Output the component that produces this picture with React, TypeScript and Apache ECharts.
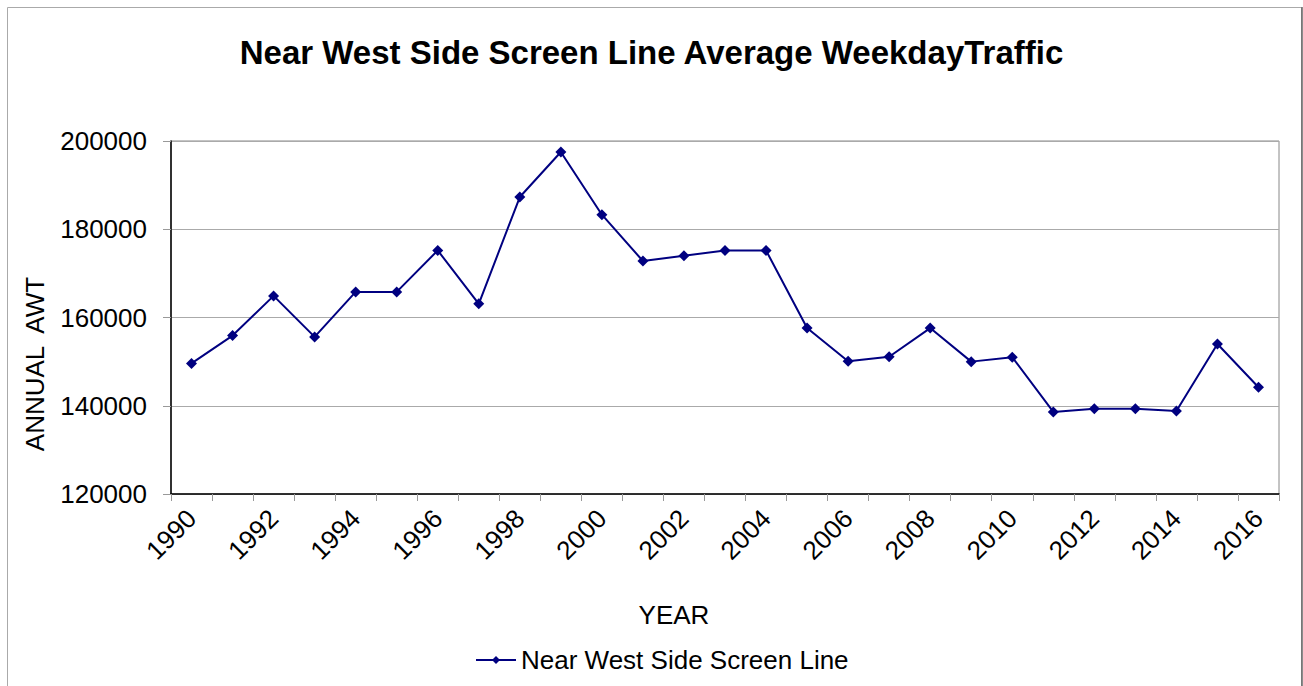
import React, { useEffect, useRef } from "react";
import * as echarts from "echarts";

const years: string[] = [
  "1990", "1991", "1992", "1993", "1994", "1995", "1996", "1997", "1998", "1999",
  "2000", "2001", "2002", "2003", "2004", "2005", "2006", "2007", "2008", "2009",
  "2010", "2011", "2012", "2013", "2014", "2015", "2016",
];
const awt: number[] = [
  149600, 155900, 164900, 155600, 165800, 165800, 175200, 163100, 187300, 197500,
  183300, 172800, 174000, 175200, 175200, 157600, 150100, 151100, 157600, 150000,
  151000, 138600, 139300, 139300, 138800, 154000, 144200,
];
const seriesName = "Near West Side Screen Line";
const titleText = "Near West Side Screen Line Average WeekdayTraffic";
const yAxisTitle = "ANNUAL  AWT";
const xAxisTitle = "YEAR";

const FONT = "'Liberation Sans', Arial, sans-serif";

export default function App() {
  const ref = useRef<HTMLDivElement>(null);
  useEffect(() => {
    if (!ref.current) return;
    const chart = echarts.init(ref.current, undefined, { renderer: "svg" });
    chart.setOption({
      animation: false,
      backgroundColor: "#ffffff",
      textStyle: { fontFamily: FONT },
      title: {
        text: titleText,
        left: "center",
        top: 31,
        textStyle: { fontFamily: FONT, fontSize: 33, fontWeight: "bold", color: "#000" },
      },
      grid: {
        left: 171,
        top: 141,
        right: 24,
        bottom: 192,
        show: true,
        borderColor: "#888888",
        borderWidth: 1,
        backgroundColor: "transparent",
      },
      legend: {
        data: [seriesName],
        left: 470,
        top: 642,
        itemWidth: 40,
        itemHeight: 10,
        itemGap: 4,
        textStyle: { fontFamily: FONT, fontSize: 26, color: "#000" },
      },
      xAxis: {
        type: "category",
        data: years,
        boundaryGap: true,
        axisLine: { show: true, lineStyle: { color: "#000", width: 1.5 } },
        axisTick: { show: true, interval: 0, length: 7, lineStyle: { color: "#999" } },
        axisLabel: {
          interval: 1,
          rotate: 45,
          margin: 20,
          fontFamily: FONT,
          fontSize: 26,
          color: "#000",
        },
        splitLine: { show: false },
      },
      yAxis: {
        type: "value",
        min: 120000,
        max: 200000,
        interval: 20000,
        axisLine: { show: true, lineStyle: { color: "#000", width: 1.5 } },
        axisTick: { show: true, length: 8, lineStyle: { color: "#999" } },
        axisLabel: {
          margin: 24,
          fontFamily: FONT,
          fontSize: 26,
          color: "#000",
          formatter: (v: number) => String(v),
        },
        splitLine: { show: true, lineStyle: { color: "#aaaaaa", width: 1 } },
      },
      graphic: [
        {
          type: "rect",
          shape: { x: 7.5, y: 7.5, width: 1294, height: 700 },
          style: { fill: "none", stroke: "#aaaaaa", lineWidth: 1 },
          silent: true,
        },
        {
          type: "line",
          shape: { x1: 1302, y1: 7, x2: 1302, y2: 686 },
          style: { stroke: "#666666", lineWidth: 1.5 },
          silent: true,
        },
        {
          type: "text",
          x: 35,
          y: 364,
          rotation: Math.PI / 2,
          style: {
            text: yAxisTitle,
            fontFamily: FONT,
            fontSize: 26,
            fill: "#000",
            align: "center",
            verticalAlign: "middle",
          },
        },
        {
          type: "text",
          x: 674,
          y: 615,
          style: {
            text: xAxisTitle,
            fontFamily: FONT,
            fontSize: 26,
            fill: "#000",
            align: "center",
            verticalAlign: "middle",
          },
        },
      ],
      series: [
        {
          name: seriesName,
          type: "line",
          data: awt,
          symbol: "diamond",
          symbolSize: 11,
          showAllSymbol: true,
          itemStyle: { color: "#000080" },
          lineStyle: { color: "#000080", width: 2 },
        },
      ],
    });
    return () => chart.dispose();
  }, []);
  return (
    <div
      ref={ref}
      style={{ position: "fixed", left: 0, top: 0, width: 1303, height: 686 }}
    />
  );
}
